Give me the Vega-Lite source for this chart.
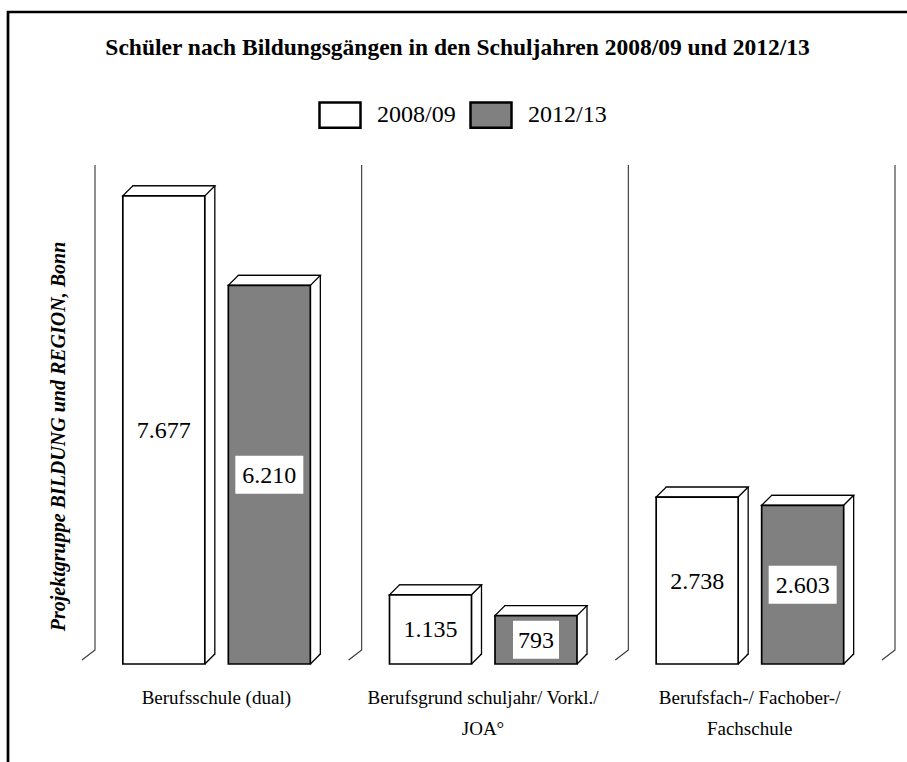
{
  "$schema": "https://vega.github.io/schema/vega-lite/v6.json",
  "autosize": "none",
  "padding": {"left": 8, "top": 12, "right": 0, "bottom": 0},
  "width": 899,
  "height": 750,
  "background": "white",
  "config": {
    "font": "Liberation Serif",
    "locale": {"number": {"decimal": ",", "thousands": ".", "grouping": [3], "currency": ["", " €"]}},
    "view": {"stroke": "black", "strokeWidth": 2.7, "strokeDash": [899, 1649, 750, 0], "strokeCap": "square"}
  },
  "title": {
    "text": "Schüler nach Bildungsgängen in den Schuljahren 2008/09 und 2012/13",
    "font": "Liberation Serif",
    "fontSize": 23.5,
    "fontWeight": "bold",
    "color": "black",
    "anchor": "middle",
    "frame": "group",
    "baseline": "alphabetic",
    "offset": -66.5
  },
  "data": {
    "values": [
      {"Bildungsgang": "Berufsschule (dual)", "Schuljahr": "2008/09", "Anzahl": 7677},
      {"Bildungsgang": "Berufsschule (dual)", "Schuljahr": "2012/13", "Anzahl": 6210},
      {"Bildungsgang": "Berufsgrund schuljahr/ Vorkl./ JOA°", "Schuljahr": "2008/09", "Anzahl": 1135},
      {"Bildungsgang": "Berufsgrund schuljahr/ Vorkl./ JOA°", "Schuljahr": "2012/13", "Anzahl": 793},
      {"Bildungsgang": "Berufsfach-/ Fachober-/ Fachschule", "Schuljahr": "2008/09", "Anzahl": 2738},
      {"Bildungsgang": "Berufsfach-/ Fachober-/ Fachschule", "Schuljahr": "2012/13", "Anzahl": 2603}
    ]
  },
  "resolve": {"scale": {"y": "independent"}, "axis": {"x": "independent"}},
  "layer": [
    {
      "transform": [{"filter": "datum.Schuljahr == '2008/09'"}],
      "mark": {"type": "bar", "width": 82, "xOffset": -64.5, "opacity": 0},
      "encoding": {
        "x": {
          "field": "Bildungsgang",
          "type": "nominal",
          "sort": null,
          "scale": {
            "type": "band",
            "domain": ["Berufsschule (dual)", "Berufsgrund schuljahr/ Vorkl./ JOA°", "Berufsfach-/ Fachober-/ Fachschule"],
            "range": [87, 887],
            "paddingInner": 0,
            "paddingOuter": 0
          },
          "axis": {
            "orient": "bottom",
            "offset": -74,
            "title": null,
            "domain": false,
            "ticks": false,
            "grid": false,
            "labelAngle": 0,
            "labelAlign": "center",
            "labelFont": "Liberation Serif",
            "labelFontSize": 19,
            "labelColor": "black",
            "labelPadding": 0,
            "labelOffset": -12,
            "labelLimit": 400,
            "labelBaseline": "top",
            "labelOverlap": false,
            "labelExpr": "datum.value == 'Berufsgrund schuljahr/ Vorkl./ JOA°' ? 'Berufsgrund schuljahr/ Vorkl./' : datum.value == 'Berufsfach-/ Fachober-/ Fachschule' ? 'Berufsfach-/ Fachober-/' : datum.value"
          }
        },
        "y": {
          "field": "Anzahl",
          "type": "quantitative",
          "scale": {"domain": [0, 8200], "range": [652, 152], "nice": false, "zero": true},
          "axis": {
            "orient": "left",
            "title": "Projektgruppe BILDUNG und REGION, Bonn",
            "domain": false,
            "ticks": false,
            "labels": false,
            "grid": false,
            "titleFont": "Liberation Serif",
            "titleFontSize": 20,
            "titleFontStyle": "italic",
            "titleFontWeight": "bold",
            "titleColor": "black",
            "titleAngle": 270,
            "titleAlign": "center",
            "titleBaseline": "middle",
            "titleX": 50,
            "titleY": 424
          }
        }
      }
    },
    {
      "transform": [{"filter": "datum.Schuljahr == '2012/13'"}],
      "mark": {"type": "bar", "width": 82, "xOffset": 41, "opacity": 0},
      "encoding": {
        "x": {
          "field": "Bildungsgang",
          "type": "nominal",
          "axis": {
            "orient": "bottom",
            "offset": -43,
            "title": null,
            "domain": false,
            "ticks": false,
            "grid": false,
            "labelAngle": 0,
            "labelAlign": "center",
            "labelFont": "Liberation Serif",
            "labelFontSize": 19,
            "labelColor": "black",
            "labelPadding": 0,
            "labelOffset": -12,
            "labelLimit": 400,
            "labelBaseline": "top",
            "labelOverlap": false,
            "labelExpr": "datum.value == 'Berufsgrund schuljahr/ Vorkl./ JOA°' ? 'JOA°' : datum.value == 'Berufsfach-/ Fachober-/ Fachschule' ? 'Fachschule' : ''"
          }
        },
        "y": {"field": "Anzahl", "type": "quantitative", "scale": {"domain": [0, 8200], "range": [652, 152], "nice": false, "zero": true}, "axis": null}
      }
    },
    {
      "transform": [{"filter": "datum.Schuljahr == '2008/09'"}],
      "mark": {"type": "point", "shape": "M0,-499L0,-14L-13,-4", "size": 4, "filled": false, "stroke": "#333333", "strokeWidth": 1.1, "opacity": 1},
      "encoding": {
        "x": {"field": "Bildungsgang", "type": "nominal", "bandPosition": 0, "axis": null},
        "y": {"datum": 0, "type": "quantitative", "scale": {"domain": [0, 8200], "range": [652, 152], "nice": false}, "axis": null}
      }
    },
    {
      "transform": [{"filter": "datum.Schuljahr == '2008/09' && datum.Bildungsgang == 'Berufsfach-/ Fachober-/ Fachschule'"}],
      "mark": {"type": "point", "shape": "M0,-499L0,-14L-13,-4", "size": 4, "filled": false, "stroke": "#333333", "strokeWidth": 1.1, "opacity": 1},
      "encoding": {
        "x": {"field": "Bildungsgang", "type": "nominal", "bandPosition": 1, "axis": null},
        "y": {"datum": 0, "type": "quantitative", "scale": {"domain": [0, 8200], "range": [652, 152], "nice": false}, "axis": null}
      }
    },
    {
      "transform": [{"filter": "datum.Schuljahr == '2008/09'"}],
      "mark": {"type": "bar", "width": 82, "xOffset": -54.5, "yOffset": -10, "y2Offset": -10, "fill": "white", "stroke": "black", "strokeWidth": 1.3, "opacity": 1},
      "encoding": {
        "x": {"field": "Bildungsgang", "type": "nominal", "axis": null},
        "y": {"field": "Anzahl", "type": "quantitative", "scale": {"domain": [0, 8200], "range": [652, 152], "nice": false, "zero": true}, "axis": null}
      }
    },
    {
      "transform": [{"filter": "datum.Schuljahr == '2008/09'"}],
      "mark": {"type": "point", "shape": "M40,0L50.3,-10.3L50.3,-11.5L40,-11.5Z", "size": 4, "filled": true, "fill": "white", "strokeWidth": 0, "opacity": 1, "xOffset": -64.5},
      "encoding": {
        "x": {"field": "Bildungsgang", "type": "nominal", "axis": null},
        "y": {"datum": 0, "type": "quantitative", "scale": {"domain": [0, 8200], "range": [652, 152], "nice": false}, "axis": null}
      }
    },
    {
      "transform": [{"filter": "datum.Schuljahr == '2008/09'"}],
      "mark": {"type": "point", "shape": "M41,0L51,-10", "size": 4, "filled": false, "stroke": "black", "strokeWidth": 1.3, "opacity": 1, "xOffset": -64.5},
      "encoding": {
        "x": {"field": "Bildungsgang", "type": "nominal", "axis": null},
        "y": {"datum": 0, "type": "quantitative", "scale": {"domain": [0, 8200], "range": [652, 152], "nice": false}, "axis": null}
      }
    },
    {
      "transform": [{"filter": "datum.Schuljahr == '2008/09'"}],
      "mark": {"type": "point", "shape": "M-41,0L41,0L51,-10L-31,-10Z", "size": 4, "filled": true, "fill": "white", "stroke": "black", "strokeWidth": 1.3, "opacity": 1, "xOffset": -64.5},
      "encoding": {
        "x": {"field": "Bildungsgang", "type": "nominal", "axis": null},
        "y": {"field": "Anzahl", "type": "quantitative", "scale": {"domain": [0, 8200], "range": [652, 152], "nice": false, "zero": true}, "axis": null}
      }
    },
    {
      "transform": [{"filter": "datum.Schuljahr == '2008/09'"}],
      "mark": {"type": "bar", "width": 82, "xOffset": -64.5, "stroke": "black", "strokeWidth": 1.7, "opacity": 1},
      "encoding": {
        "x": {"field": "Bildungsgang", "type": "nominal", "axis": null},
        "y": {"field": "Anzahl", "type": "quantitative", "scale": {"domain": [0, 8200], "range": [652, 152], "nice": false, "zero": true}, "axis": null},
        "fill": {
          "field": "Schuljahr",
          "type": "nominal",
          "scale": {"domain": ["2008/09", "2012/13"], "range": ["white", "#808080"]},
          "legend": {
            "orient": "none",
            "legendX": 310,
            "legendY": 81,
            "direction": "horizontal",
            "title": null,
            "labelFont": "Liberation Serif",
            "labelFontSize": 24,
            "labelColor": "black",
            "labelOffset": 15,
            "columnPadding": 9,
            "padding": 0,
            "symbolType": "M-1,-0.62H1V0.62H-1Z",
            "symbolSize": 1681,
            "symbolStrokeColor": "black",
            "symbolStrokeWidth": 2.5,
            "symbolOpacity": 1,
            "labelLimit": 200,
            "encode": {"symbols": {"update": {"stroke": {"value": "black"}, "strokeWidth": {"value": 2.5}, "opacity": {"value": 1}}}}
          }
        }
      }
    },
    {
      "transform": [{"filter": "datum.Schuljahr == '2012/13'"}],
      "mark": {"type": "bar", "width": 82, "xOffset": 51, "yOffset": -10, "y2Offset": -10, "fill": "white", "stroke": "black", "strokeWidth": 1.3, "opacity": 1},
      "encoding": {
        "x": {"field": "Bildungsgang", "type": "nominal", "axis": null},
        "y": {"field": "Anzahl", "type": "quantitative", "scale": {"domain": [0, 8200], "range": [652, 152], "nice": false, "zero": true}, "axis": null}
      }
    },
    {
      "transform": [{"filter": "datum.Schuljahr == '2012/13'"}],
      "mark": {"type": "point", "shape": "M40,0L50.3,-10.3L50.3,-11.5L40,-11.5Z", "size": 4, "filled": true, "fill": "white", "strokeWidth": 0, "opacity": 1, "xOffset": 41},
      "encoding": {
        "x": {"field": "Bildungsgang", "type": "nominal", "axis": null},
        "y": {"datum": 0, "type": "quantitative", "scale": {"domain": [0, 8200], "range": [652, 152], "nice": false}, "axis": null}
      }
    },
    {
      "transform": [{"filter": "datum.Schuljahr == '2012/13'"}],
      "mark": {"type": "point", "shape": "M41,0L51,-10", "size": 4, "filled": false, "stroke": "black", "strokeWidth": 1.3, "opacity": 1, "xOffset": 41},
      "encoding": {
        "x": {"field": "Bildungsgang", "type": "nominal", "axis": null},
        "y": {"datum": 0, "type": "quantitative", "scale": {"domain": [0, 8200], "range": [652, 152], "nice": false}, "axis": null}
      }
    },
    {
      "transform": [{"filter": "datum.Schuljahr == '2012/13'"}],
      "mark": {"type": "point", "shape": "M-41,0L41,0L51,-10L-31,-10Z", "size": 4, "filled": true, "fill": "white", "stroke": "black", "strokeWidth": 1.3, "opacity": 1, "xOffset": 41},
      "encoding": {
        "x": {"field": "Bildungsgang", "type": "nominal", "axis": null},
        "y": {"field": "Anzahl", "type": "quantitative", "scale": {"domain": [0, 8200], "range": [652, 152], "nice": false, "zero": true}, "axis": null}
      }
    },
    {
      "transform": [{"filter": "datum.Schuljahr == '2012/13'"}],
      "mark": {"type": "bar", "width": 82, "xOffset": 41, "stroke": "black", "strokeWidth": 1.7, "opacity": 1},
      "encoding": {
        "x": {"field": "Bildungsgang", "type": "nominal", "axis": null},
        "y": {"field": "Anzahl", "type": "quantitative", "scale": {"domain": [0, 8200], "range": [652, 152], "nice": false, "zero": true}, "axis": null},
        "fill": {
          "field": "Schuljahr",
          "type": "nominal",
          "scale": {"domain": ["2008/09", "2012/13"], "range": ["white", "#808080"]},
          "legend": {
            "orient": "none",
            "legendX": 310,
            "legendY": 81,
            "direction": "horizontal",
            "title": null,
            "labelFont": "Liberation Serif",
            "labelFontSize": 24,
            "labelColor": "black",
            "labelOffset": 15,
            "columnPadding": 9,
            "padding": 0,
            "symbolType": "M-1,-0.62H1V0.62H-1Z",
            "symbolSize": 1681,
            "symbolStrokeColor": "black",
            "symbolStrokeWidth": 2.5,
            "symbolOpacity": 1,
            "labelLimit": 200,
            "encode": {"symbols": {"update": {"stroke": {"value": "black"}, "strokeWidth": {"value": 2.5}, "opacity": {"value": 1}}}}
          }
        }
      }
    },
    {
      "transform": [{"filter": "datum.Schuljahr == '2012/13'"}],
      "mark": {"type": "point", "size": 4, "filled": true, "fill": "white", "strokeWidth": 0, "opacity": 1, "xOffset": 41},
      "encoding": {
        "x": {"field": "Bildungsgang", "type": "nominal", "axis": null},
        "y": {"field": "Anzahl", "type": "quantitative", "scale": {"domain": [0, 16400], "range": [652, 152], "nice": false, "zero": true}, "axis": null},
        "shape": {"condition": {"test": "datum.Anzahl < 1000", "value": "M-23,-19H23V19H-23Z"}, "value": "M-34,-19H34V19H-34Z"}
      }
    },
    {
      "transform": [{"filter": "datum.Schuljahr == '2008/09'"}],
      "mark": {"type": "text", "xOffset": -64.5, "font": "Liberation Serif", "fontSize": 24, "color": "black", "align": "center", "baseline": "middle", "dy": 1},
      "encoding": {
        "x": {"field": "Bildungsgang", "type": "nominal", "axis": null},
        "y": {"field": "Anzahl", "type": "quantitative", "scale": {"domain": [0, 16400], "range": [652, 152], "nice": false, "zero": true}, "axis": null},
        "text": {"field": "Anzahl", "type": "quantitative", "format": ",d"}
      }
    },
    {
      "transform": [{"filter": "datum.Schuljahr == '2012/13'"}],
      "mark": {"type": "text", "xOffset": 41, "font": "Liberation Serif", "fontSize": 24, "color": "black", "align": "center", "baseline": "middle", "dy": 1},
      "encoding": {
        "x": {"field": "Bildungsgang", "type": "nominal", "axis": null},
        "y": {"field": "Anzahl", "type": "quantitative", "scale": {"domain": [0, 16400], "range": [652, 152], "nice": false, "zero": true}, "axis": null},
        "text": {"field": "Anzahl", "type": "quantitative", "format": ",d"}
      }
    }
  ]
}
